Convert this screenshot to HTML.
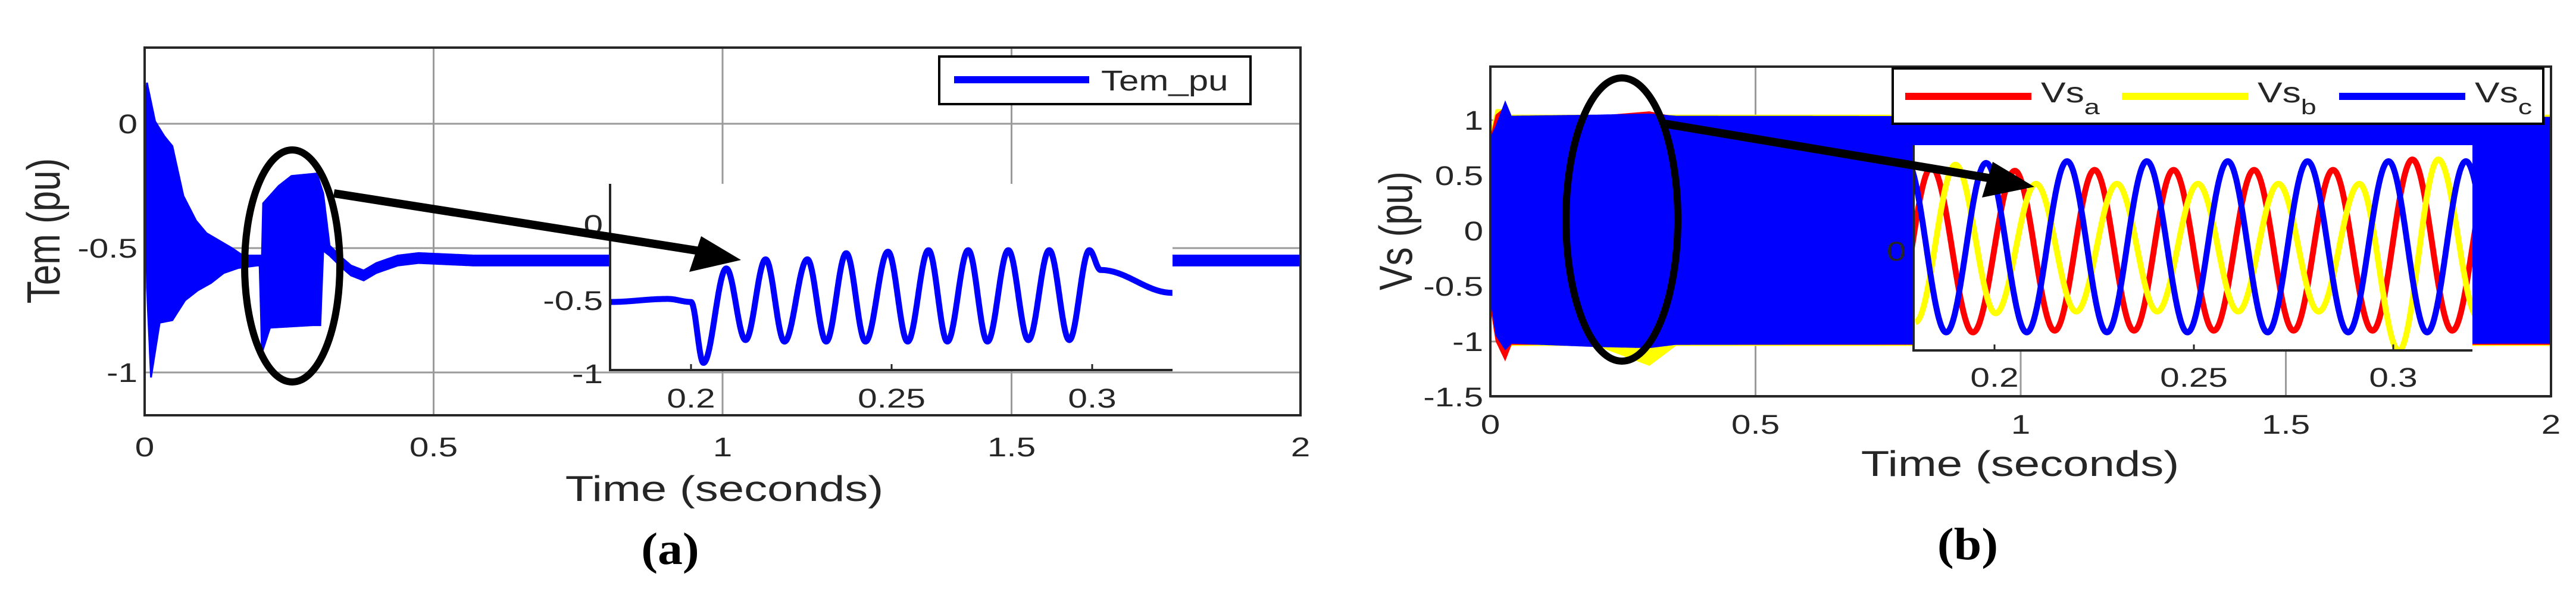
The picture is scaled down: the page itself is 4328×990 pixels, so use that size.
<!DOCTYPE html>
<html><head><meta charset="utf-8"><style>
html,body{margin:0;padding:0;background:#fff;}
svg{display:block;}
text{font-family:"Liberation Sans",Arial,sans-serif;fill:#262626;}
text.serif{font-family:"Liberation Serif",serif;font-weight:bold;fill:#000;}
</style></head>
<body>
<svg id="fig" xmlns="http://www.w3.org/2000/svg" width="4328" height="990" viewBox="0 0 4328 990">
<defs>
<clipPath id="clipL"><rect x="243" y="80" width="1942" height="618"/></clipPath>
<clipPath id="clipLI"><rect x="1025" y="309" width="945" height="313"/></clipPath>
<clipPath id="clipR"><rect x="2504" y="112" width="1782" height="554"/></clipPath>
<clipPath id="clipRI"><rect x="3215" y="244" width="939" height="345"/></clipPath>
</defs>
<g id="panelA"></g>
<g id="panelB"></g>
</svg>
<script>
// ===== Panel (a) data: electromagnetic torque envelope =====
const upT=[0,0.004,0.018,0.034,0.048,0.067,0.089,0.107,0.129,0.151,0.170,0.199,0.203,0.205,0.232,0.254,0.298,0.309,0.320,0.342,0.357,0.379,0.401,0.438,0.474,0.570,2.0];
const upV=[0.0,0.165,0.01,-0.05,-0.09,-0.29,-0.39,-0.44,-0.47,-0.50,-0.53,-0.53,-0.53,-0.32,-0.25,-0.21,-0.20,-0.28,-0.49,-0.54,-0.57,-0.59,-0.56,-0.53,-0.52,-0.53,-0.53];
const loT=[0,0.004,0.011,0.026,0.048,0.070,0.092,0.115,0.137,0.162,0.195,0.199,0.203,0.217,0.291,0.304,0.309,0.320,0.342,0.357,0.379,0.401,0.438,0.474,0.570,2.0];
const loV=[0.0,-0.66,-1.02,-0.80,-0.79,-0.71,-0.67,-0.64,-0.60,-0.58,-0.57,-0.57,-0.92,-0.82,-0.81,-0.81,-0.51,-0.53,-0.58,-0.61,-0.63,-0.60,-0.57,-0.56,-0.57,-0.57];
// inset (a): extrema of zoomed torque
const liT=[0.1798,0.1942,0.2,0.2031,0.2088,0.2136,0.2186,0.2233,0.229,0.2337,0.2387,0.2435,0.2491,0.254,0.2592,0.2639,0.2691,0.2739,0.2791,0.2841,0.2893,0.2943,0.2993,0.3021,0.32];
const liV=[-0.51,-0.49,-0.51,-0.91,-0.29,-0.76,-0.23,-0.77,-0.23,-0.77,-0.19,-0.77,-0.18,-0.77,-0.17,-0.77,-0.17,-0.77,-0.17,-0.76,-0.17,-0.76,-0.17,-0.30,-0.45];
const aXTicks=[0,0.5,1,1.5,2];
const aXTickLabels=["0","0.5","1","1.5","2"];
const aYTicks=[0,-0.5,-1];
const aYTickLabels=["0","-0.5","-1"];
const aIXTicks=[0.2,0.25,0.3];
const aIXTickLabels=["0.2","0.25","0.3"];
const aIYTicks=[0,-0.5,-1];
const aIYTickLabels=["0","-0.5","-1"];

// ===== Panel (b) data: stator voltages envelopes =====
const rT=[0,0.01,0.028,0.04,0.2,0.3,0.35,2.0];
const blueUp=[0.85,0.95,1.18,1.04,1.05,1.06,1.04,1.03];
const blueLo=[-0.64,-0.95,-1.08,-1.02,-1.05,-1.06,-1.03,-1.02];
const redUp=[0.85,1.05,1.12,1.04,1.04,1.08,1.03,1.03];
const redLo=[-0.7,-1.0,-1.18,-1.03,-1.03,-1.03,-1.03,-1.03];
const yelUp=[0.9,1.1,1.1,1.05,1.05,1.05,1.05,1.05];
const yelLo=[-0.7,-1.0,-1.15,-1.04,-1.04,-1.22,-1.04,-1.04];
// inset (b): extrema of each phase
const blueT=[0.1779,0.1879,0.1979,0.2081,0.2182,0.2282,0.2382,0.2484,0.2585,0.2685,0.2785,0.2887,0.2988,0.3085,0.3182,0.3282];
const blueV=[1.0,-0.97,0.98,-0.97,1.0,-0.97,1.0,-0.97,1.0,-0.97,1.0,-0.97,1.0,-0.97,1.0,-0.97];
const redT=[0.1742,0.1842,0.1946,0.2051,0.2151,0.2251,0.235,0.2449,0.255,0.2651,0.275,0.2849,0.2948,0.3048,0.3148,0.3248];
const redV=[-0.97,0.93,-0.97,0.89,-0.95,0.9,-0.95,0.9,-0.95,0.9,-0.95,0.9,-0.95,1.02,-0.95,0.95];
const yelT=[0.1802,0.1902,0.2003,0.2104,0.2205,0.2307,0.2408,0.251,0.2611,0.2712,0.2813,0.2915,0.3014,0.3113,0.3213];
const yelV=[-0.85,0.96,-0.75,0.74,-0.73,0.74,-0.73,0.74,-0.73,0.74,-0.73,0.74,-1.18,1.02,-0.8];
const bXTicks=[0,0.5,1,1.5,2];
const bXTickLabels=["0","0.5","1","1.5","2"];
const bYTicks=[1,0.5,0,-0.5,-1,-1.5];
const bYTickLabels=["1","0.5","0","-0.5","-1","-1.5"];
const bIXTicks=[0.2,0.25,0.3];
const bIXTickLabels=["0.2","0.25","0.3"];

const NS="http://www.w3.org/2000/svg";
function el(parent,tag,attrs){const e=document.createElementNS(NS,tag);for(const k in attrs)e.setAttribute(k,attrs[k]);parent.appendChild(e);return e;}
function label(parent,x,y,str,size,anchor,sx,extra){
  const g=el(parent,'g',{transform:`translate(${x},${y}) scale(${sx||1.3},1)`});
  const t=el(g,'text',Object.assign({x:0,y:0,'font-size':size,'text-anchor':anchor||'middle'},extra||{}));
  t.textContent=str;return t;
}
function interpLin(T,V,t){if(t<=T[0])return V[0];for(let i=1;i<T.length;i++){if(t<=T[i]){const f=(t-T[i-1])/(T[i]-T[i-1]);return V[i-1]+(V[i]-V[i-1])*f;}}return V[V.length-1];}
function interpCos(T,V,t){if(t<=T[0])return V[0];for(let i=1;i<T.length;i++){if(t<=T[i]){const f=(t-T[i-1])/(T[i]-T[i-1]);const w=(1-Math.cos(Math.PI*f))/2;return V[i-1]+(V[i]-V[i-1])*w;}}return V[V.length-1];}
function envPath(T,Up,TL,Lo,X,Y,t0,t1,n){
  let d='';for(let i=0;i<=n;i++){const t=t0+(t1-t0)*i/n;d+=(i?'L':'M')+X(t).toFixed(1)+','+Y(interpLin(T,Up,t)).toFixed(1);}
  for(let i=n;i>=0;i--){const t=t0+(t1-t0)*i/n;d+='L'+X(t).toFixed(1)+','+Y(interpLin(TL,Lo,t)).toFixed(1);}
  return d+'Z';
}
function curvePath(T,V,X,Y,n){let d='';const t0=T[0],t1=T[T.length-1];for(let i=0;i<=n;i++){const t=t0+(t1-t0)*i/n;d+=(i?'L':'M')+X(t).toFixed(1)+','+Y(interpCos(T,V,t)).toFixed(1);}return d;}

// ================= PANEL A =================
(function(){
const P=document.getElementById('panelA');
const X=t=>243+t*971, Y=v=>208-v*418;
const L=243,R=2185,T=80,B=698;
const grid=el(P,'g',{});


aXTicks.forEach(v=>{if(v>0&&v<2){const l=el(grid,'line',{x1:X(v),x2:X(v),y1:T,y2:B,stroke:'#9a9a9a','stroke-width':3});}});
aYTicks.forEach(v=>{const l=el(grid,'line',{x1:L,x2:R,y1:Y(v),y2:Y(v),stroke:'#9a9a9a','stroke-width':3});});
const s=el(P,'path',{d:envPath(upT,upV,loT,loV,X,Y,0,2,4000),fill:'#0000ff',stroke:'#0000ff','stroke-width':3,'clip-path':'url(#clipL)'});


const ax=el(P,'rect',{x:L,y:T,width:R-L,height:B-T,fill:'none',stroke:'#262626','stroke-width':4});


aXTicks.forEach((v,i)=>{const t=label(P,X(v),767,aXTickLabels[i],45,'middle');});
aYTicks.forEach((v,i)=>{const t=label(P,231,Y(v)+16,aYTickLabels[i],45,'end');});
const xl=label(P,1217,842,'Time (seconds)',60,'middle');


const yg=el(P,'g',{transform:'translate(100,388) scale(1.25,1) rotate(-90)'});
const yl=el(yg,'text',{x:0,y:0,'font-size':62,'text-anchor':'middle'});yl.textContent='Tem (pu)';


const cap=label(P,1126,948,'(a)',76,'middle',1.1,{'class':'serif'});


const lg=el(P,'g',{});


el(lg,'rect',{x:1578,y:95,width:523,height:80,fill:'#fff',stroke:'#000','stroke-width':4});
const ll=el(lg,'line',{x1:1603,x2:1830,y1:134,y2:134,stroke:'#0000ff','stroke-width':12});


const lt=label(lg,1850,152,'Tem_pu',48,'start',1.25);


const ins=el(P,'g',{});


const XI=t=>1161+(t-0.2)*6740, YI=v=>377-v*256;
el(ins,'rect',{x:1025,y:309,width:945,height:313,fill:'#fff'});
const ip=el(ins,'path',{d:curvePath(liT,liV,XI,YI,1500),fill:'none',stroke:'#0000ff','stroke-width':10,'stroke-linejoin':'round','clip-path':'url(#clipLI)'});


el(ins,'polyline',{points:'1025,309 1025,622 1970,622',fill:'none',stroke:'#262626','stroke-width':4});
aIXTicks.forEach((v,i)=>{el(ins,'line',{x1:XI(v),x2:XI(v),y1:622,y2:612,stroke:'#262626','stroke-width':3});
 const t=label(ins,XI(v),685,aIXTickLabels[i],45,'middle');});
aIYTicks.forEach((v,i)=>{const t=label(ins,1013,Math.min(YI(v),628)+16,aIYTickLabels[i],45,'end');});
const ell=el(P,'ellipse',{cx:491,cy:447,rx:80,ry:195,fill:'none',stroke:'#000','stroke-width':12});


const ar=el(P,'g',{});


el(ar,'line',{x1:561,y1:325,x2:1195,y2:425,stroke:'#000','stroke-width':14});
el(ar,'polygon',{points:'1245,437 1158,457 1178,397',fill:'#000'});
})();

// ================= PANEL B =================
(function(){
const P=document.getElementById('panelB');
const X=t=>2504+t*891, Y=v=>388-v*186;
const L=2504,R=4286,T=112,B=666;
const grid=el(P,'g',{});


bXTicks.forEach(v=>{if(v>0&&v<2){const l=el(grid,'line',{x1:X(v),x2:X(v),y1:T,y2:B,stroke:'#9a9a9a','stroke-width':3});}});
bYTicks.forEach(v=>{const l=el(grid,'line',{x1:L,x2:R,y1:Y(v),y2:Y(v),stroke:'#9a9a9a','stroke-width':3});});
const ya=el(P,'path',{d:envPath(rT,yelUp,rT,yelLo,X,Y,0,2,2000),fill:'#ffff00','clip-path':'url(#clipR)'});


const ra=el(P,'path',{d:envPath(rT,redUp,rT,redLo,X,Y,0,2,2000),fill:'#ff0000','clip-path':'url(#clipR)'});


const ba=el(P,'path',{d:envPath(rT,blueUp,rT,blueLo,X,Y,0,2,2000),fill:'#0000ff','clip-path':'url(#clipR)'});


const ax=el(P,'rect',{x:L,y:T,width:R-L,height:B-T,fill:'none',stroke:'#262626','stroke-width':4});


bXTicks.forEach((v,i)=>{const t=label(P,X(v),729,bXTickLabels[i],45,'middle');});
bYTicks.forEach((v,i)=>{const t=label(P,2492,Y(v)+16,bYTickLabels[i],45,'end');});
const xl=label(P,3394,800,'Time (seconds)',60,'middle');


const yg=el(P,'g',{transform:'translate(2372,388) scale(1.25,1) rotate(-90)'});
const yl=el(yg,'text',{x:0,y:0,'font-size':62,'text-anchor':'middle'});yl.textContent='Vs (pu)';


const cap=label(P,3306,940,'(b)',76,'middle',1.1,{'class':'serif'});


const ins=el(P,'g',{});


const XI=t=>3351+(t-0.2)*6700, YI=v=>417-v*146;
el(ins,'rect',{x:3215,y:244,width:939,height:345,fill:'#fff'});
const pr=el(ins,'path',{d:curvePath(redT,redV,XI,YI,1500),fill:'none',stroke:'#ff0000','stroke-width':10,'clip-path':'url(#clipRI)'});


const py=el(ins,'path',{d:curvePath(yelT,yelV,XI,YI,1500),fill:'none',stroke:'#ffff00','stroke-width':10,'clip-path':'url(#clipRI)'});


const pb=el(ins,'path',{d:curvePath(blueT,blueV,XI,YI,1500),fill:'none',stroke:'#0000ff','stroke-width':10,'clip-path':'url(#clipRI)'});


el(ins,'polyline',{points:'3215,244 3215,589 4154,589',fill:'none',stroke:'#262626','stroke-width':4});
bIXTicks.forEach((v,i)=>{el(ins,'line',{x1:XI(v),x2:XI(v),y1:589,y2:579,stroke:'#262626','stroke-width':3});
 const t=label(ins,XI(v),650,bIXTickLabels[i],45,'middle');});
const z=label(ins,3186,438,'0',45,'middle');


const lg=el(P,'g',{});


el(lg,'rect',{x:3180,y:115,width:1093,height:93,fill:'#fff',stroke:'#000','stroke-width':4});
const entries=[['#ff0000',3201,'a','vs-a'],['#ffff00',3565,'b','vs-b'],['#0000ff',3930,'c','vs-c']];
entries.forEach(e=>{
 const ln=el(lg,'line',{x1:e[1],x2:e[1]+212,y1:162,y2:162,stroke:e[0],'stroke-width':12});
 
 
 const g=el(lg,'g',{transform:`translate(${e[1]+228},172) scale(1.3,1)`});
 const t=el(g,'text',{x:0,y:0,'font-size':48});
 
 
 t.textContent='Vs';
 const sub=el(t,'tspan',{dy:20,'font-size':36});sub.textContent=e[2];
});
const ell=el(P,'ellipse',{cx:2725,cy:369,rx:94,ry:238,fill:'none',stroke:'#000','stroke-width':12});


const ar=el(P,'g',{});


el(ar,'line',{x1:2797,y1:208,x2:3370,y2:304,stroke:'#000','stroke-width':14});
el(ar,'polygon',{points:'3418,314 3330,332 3348,272',fill:'#000'});
})();
</script>
</body></html>
